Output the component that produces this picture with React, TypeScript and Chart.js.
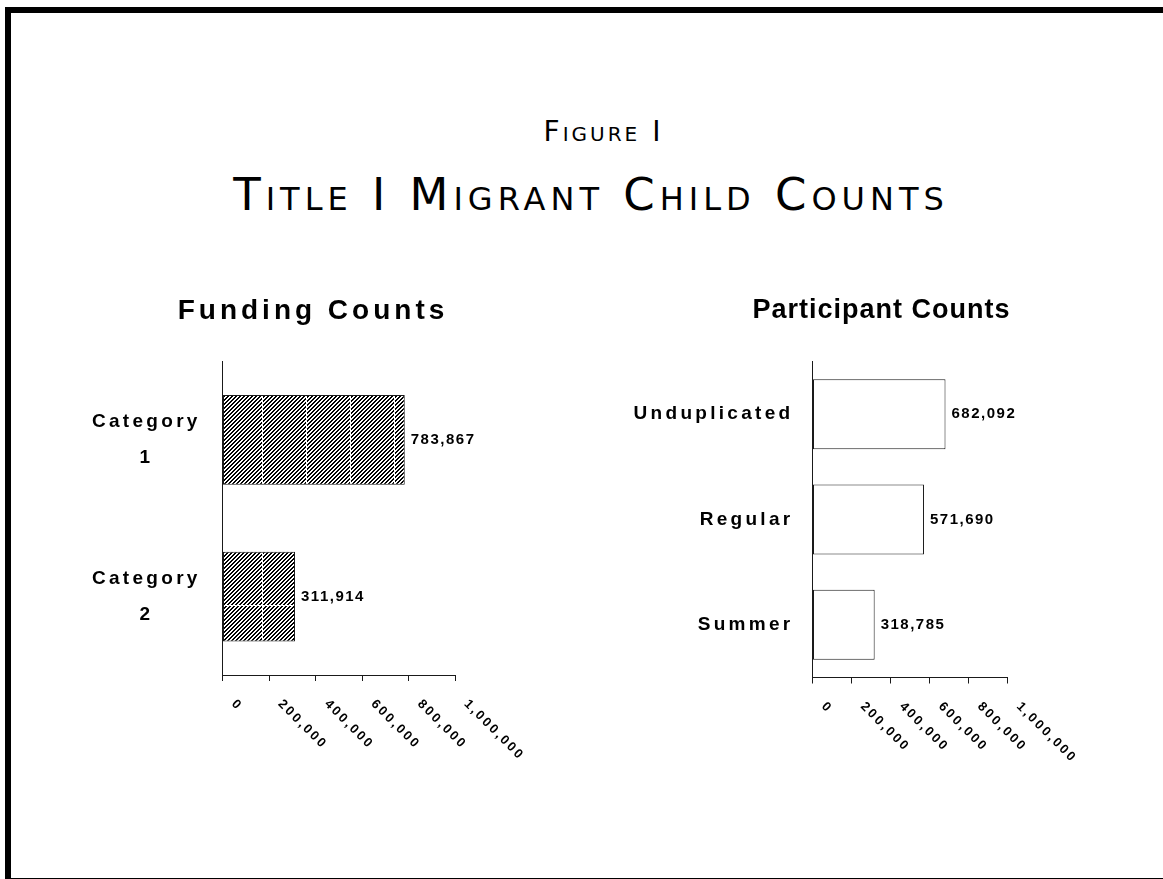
import React, { useEffect, useRef } from "react";
import { Chart, registerables } from "chart.js";

Chart.register(...registerables);

const figureLabel = "Figure I";
const mainTitle = "Title I Migrant Child Counts";
const fundingTitle = "Funding Counts";
const participantTitle = "Participant Counts";

const fundingCategories: string[][] = [["Category", "1"], ["Category", "2"]];
const fundingValues: number[] = [783867, 311914];

const participantCategories: string[] = ["Unduplicated", "Regular", "Summer"];
const participantValues: number[] = [682092, 571690, 318785];

const axisMin = 0;
const axisMax = 1000000;
const axisStep = 200000;

const SANS = '"Liberation Sans", Arial, Helvetica, sans-serif';
const TITLE_FONT = '"DejaVu Sans", "Liberation Sans", sans-serif';
const INK = "#1a1a1a";
const CAT_SPACING = "3.3px";

function withCommas(n: number): string {
  const s = Math.round(n).toString();
  return s.replace(/\B(?=(\d{3})+(?!\d))/g, ",");
}

function makeHatch(ctx: CanvasRenderingContext2D, offX: number, offY: number): CanvasPattern | string {
  const W = 44;
  const H = 216;
  const c = document.createElement("canvas");
  c.width = W;
  c.height = H;
  const g = c.getContext("2d");
  if (!g) return "#888";
  const img = g.createImageData(W, H);
  for (let y = 0; y < H; y++) {
    for (let x = 0; x < W; x++) {
      let black = (x + y) % 4 < 2;
      if (x === 0 || y === 0) black = false;
      const v = black ? 0 : 255;
      const i = (y * W + x) * 4;
      img.data[i] = v;
      img.data[i + 1] = v;
      img.data[i + 2] = v;
      img.data[i + 3] = 255;
    }
  }
  g.putImageData(img, 0, 0);
  const p = ctx.createPattern(c, "repeat");
  if (!p) return "#888";
  p.setTransform(new DOMMatrix([1, 0, 0, 1, offX, offY]));
  return p;
}

const letterSpacingPlugin = {
  id: "letterSpacing",
  beforeDraw(chart: any) {
    chart.ctx.letterSpacing = CAT_SPACING;
  },
  afterDraw(chart: any) {
    chart.ctx.letterSpacing = "0px";
  },
};

const valueLabelPlugin = {
  id: "valueLabels",
  afterDatasetsDraw(chart: any) {
    const ctx = chart.ctx;
    const meta = chart.getDatasetMeta(0);
    const data = chart.data.datasets[0].data as number[];
    meta.data.forEach((bar: any, i: number) => {
      ctx.save();
      ctx.letterSpacing = "1.5px";
      ctx.font = `bold 15px ${SANS}`;
      ctx.fillStyle = "#000";
      ctx.textAlign = "left";
      ctx.textBaseline = "middle";
      ctx.fillText(withCommas(data[i]), bar.x + 6, bar.y);
      ctx.restore();
    });
  },
};

const tickLabelPlugin = {
  id: "rotatedTicks",
  afterDraw(chart: any) {
    const ctx = chart.ctx;
    const xs = chart.scales.x;
    xs.ticks.forEach((t: any) => {
      const px = xs.getPixelForValue(t.value);
      ctx.save();
      ctx.translate(px + 11, xs.top + 27);
      ctx.rotate(Math.PI / 4);
      ctx.letterSpacing = "2.4px";
      ctx.font = `bold 13px ${SANS}`;
      ctx.fillStyle = "#000";
      ctx.textAlign = "left";
      ctx.textBaseline = "middle";
      ctx.fillText(withCommas(t.value), 0, 0);
      ctx.restore();
    });
  },
};

interface PanelProps {
  left: number;
  top: number;
  width: number;
  height: number;
  labels: (string | string[])[];
  values: number[];
  hatched: boolean;
  hatchOffset: [number, number];
  barPercentage: number;
  yAxisWidth: number;
  xAxisHeight: number;
  padRight: number;
  padTop: number;
  crossAlign: "near" | "center" | "far";
  labelPadding: number;
}

function BarPanel(p: PanelProps) {
  const ref = useRef<HTMLCanvasElement>(null);
  useEffect(() => {
    const canvas = ref.current;
    if (!canvas) return;
    const ctx = canvas.getContext("2d");
    if (!ctx) return;
    const fill = p.hatched ? makeHatch(ctx, p.hatchOffset[0], p.hatchOffset[1]) : "#ffffff";
    const chart = new Chart(canvas, {
      type: "bar",
      data: {
        labels: p.labels as any,
        datasets: [
          {
            data: p.values,
            backgroundColor: fill as any,
            borderColor: INK,
            borderWidth: 1,
            borderSkipped: false,
            barPercentage: p.barPercentage,
            categoryPercentage: 1,
          },
        ],
      },
      options: {
        indexAxis: "y",
        responsive: false,
        animation: false,
        events: [],
        layout: { padding: { left: 0, right: p.padRight, top: p.padTop, bottom: 0 } },
        plugins: {
          legend: { display: false },
          tooltip: { enabled: false },
          title: { display: false },
        },
        scales: {
          x: {
            type: "linear",
            min: axisMin,
            max: axisMax,
            ticks: { stepSize: axisStep, display: false },
            grid: {
              display: true,
              drawOnChartArea: false,
              drawTicks: true,
              tickLength: 6,
              color: INK,
              lineWidth: 1,
            },
            border: { display: true, color: INK, width: 1 },
            afterFit: (s: any) => {
              s.height = p.xAxisHeight;
              s.paddingLeft = 0;
              s.paddingRight = 0;
            },
          },
          y: {
            type: "category",
            ticks: {
              color: "#000",
              font: { family: SANS, size: 19, weight: "bold", lineHeight: 1.9 },
              crossAlign: p.crossAlign,
              padding: p.labelPadding,
              autoSkip: false,
            },
            grid: { display: false, drawTicks: false },
            border: { display: true, color: INK, width: 1 },
            afterFit: (s: any) => {
              s.width = p.yAxisWidth;
              s.paddingTop = 0;
              s.paddingBottom = 0;
            },
          },
        },
      } as any,
      plugins: [letterSpacingPlugin, valueLabelPlugin, tickLabelPlugin],
    });
    return () => chart.destroy();
  }, []);
  return (
    <canvas
      ref={ref}
      width={p.width}
      height={p.height}
      style={{ position: "absolute", left: p.left, top: p.top, width: p.width, height: p.height }}
    />
  );
}

function centered(cx: number, top: number, extra: React.CSSProperties): React.CSSProperties {
  return {
    position: "absolute",
    left: cx - 400,
    width: 800,
    top,
    textAlign: "center",
    whiteSpace: "nowrap",
    lineHeight: 1,
    color: "#000",
    zIndex: 2,
    ...extra,
  };
}

export default function App() {
  return (
    <div
      style={{
        position: "absolute",
        left: 0,
        top: 0,
        width: 1163,
        height: 879,
        overflow: "hidden",
        background: "#fff",
      }}
    >
      <div
        style={{
          position: "absolute",
          left: 5,
          top: 7,
          width: 1158,
          height: 872,
          boxSizing: "border-box",
          borderTop: "6px solid #000",
          borderLeft: "6px solid #000",
          borderBottom: "1px solid #000",
        }}
      />
      <div
        style={centered(603.5, 118.3, {
          fontFamily: TITLE_FONT,
          fontSize: 28,
          fontVariant: "small-caps",
          letterSpacing: "3px",
        })}
      >
        {figureLabel}
      </div>
      <div
        style={centered(591, 171.7, {
          fontFamily: TITLE_FONT,
          fontSize: 45,
          fontVariant: "small-caps",
          letterSpacing: "5px",
        })}
      >
        {mainTitle}
      </div>
      <div
        style={centered(313, 295.6, {
          fontFamily: SANS,
          fontSize: 28,
          fontWeight: "bold",
          letterSpacing: "4px",
        })}
      >
        {fundingTitle}
      </div>
      <div
        style={centered(881.5, 296.3, {
          fontFamily: SANS,
          fontSize: 27,
          fontWeight: "bold",
          letterSpacing: "1px",
        })}
      >
        {participantTitle}
      </div>
      <BarPanel
        left={40}
        top={290}
        width={560}
        height={510}
        labels={fundingCategories}
        values={fundingValues}
        hatched={true}
        hatchOffset={[2, 99]}
        barPercentage={0.573}
        yAxisWidth={182.5}
        xAxisHeight={125}
        padRight={145}
        padTop={71.5}
        crossAlign="center"
        labelPadding={35}
      />
      <BarPanel
        left={610}
        top={290}
        width={553}
        height={510}
        labels={participantCategories}
        values={participantValues}
        hatched={false}
        hatchOffset={[0, 0]}
        barPercentage={0.665}
        yAxisWidth={202.5}
        xAxisHeight={122.5}
        padRight={155.5}
        padTop={71.5}
        crossAlign="near"
        labelPadding={19}
      />
    </div>
  );
}
